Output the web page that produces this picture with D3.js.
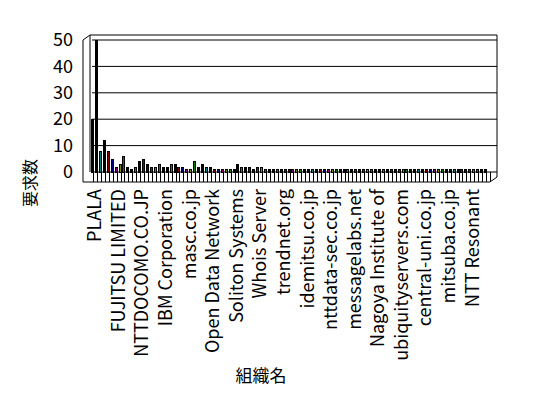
<!DOCTYPE html>
<html>
<head>
<meta charset="utf-8">
<script src="https://cdn.jsdelivr.net/npm/d3@7/dist/d3.min.js"></script>
<style>
  body { margin: 0; background: #fff; }
  text { font-family: "Noto Sans CJK JP", "DejaVu Sans", sans-serif; fill: #000; }
</style>
</head>
<body>
<div id="chart"></div>
<script>
// request counts per organisation
const values = [
  20, 50, 8, 12, 8, 5, 2, 3, 6, 2, 1, 2, 4, 5, 3, 2, 2, 3, 2, 2,
  3, 3, 2, 2, 1, 1, 4, 2, 3, 2, 2, 1, 1, 1, 1, 1, 1, 3, 2, 2,
  2, 1, 2, 2, 1, 1, 1, 1, 1, 1, 1, 1, 1, 1, 1, 1, 1, 1, 1, 1,
  1, 1, 1, 1, 1, 1, 1, 1, 1, 1, 1, 1, 1, 1, 1, 1, 1, 1, 1, 1,
  1, 1, 1, 1, 1, 1, 1, 1, 1, 1, 1, 1, 1, 1, 1, 1, 1, 1, 1, 1,
  1
];
// only every 6th category name is printed
const tickLabels = [
  'PLALA', 'FUJITSU LIMITED', 'NTTDOCOMO.CO.JP', 'IBM Corporation', 'masc.co.jp',
  'Open Data Network', 'Soliton Systems', 'Whois Server', 'trendnet.org',
  'idemitsu.co.jp', 'nttdata-sec.co.jp', 'messagelabs.net', 'Nagoya Institute of',
  'ubiquityservers.com', 'central-uni.co.jp', 'mitsuba.co.jp', 'NTT Resonant'
];
const labelStep = 6;
const yTicks = [0, 10, 20, 30, 40, 50];
const barColors = ['#000000', '#000000', '#008080', '#000000', '#800000', '#000080', '#800080', '#808000', '#008000'];

const width = 548, height = 398;
const dx = 7, dy = -5; // 3d depth offset

const svg = d3.select('#chart')
  .append('svg')
  .attr('width', width)
  .attr('height', height);

const x = d3.scaleBand()
  .domain(d3.range(values.length))
  .range([93, 490]);
const y = d3.scaleLinear()
  .domain([0, 50])
  .range([172, 40]);

const left = 83, floorY = 182;
const right = x.range()[1];

// back wall + gridlines
svg.append('path')
  .attr('d', `M${left + dx},${y(50) + dy}H${right + dx}V${floorY + dy}`)
  .attr('fill', 'none').attr('stroke', '#000');
svg.selectAll('.grid')
  .data(yTicks.slice(1))
  .join('line')
  .attr('x1', left + 9).attr('x2', right + dx)
  .attr('y1', d => y(d)).attr('y2', d => y(d))
  .attr('stroke', '#000');

// side wall
svg.append('path')
  .attr('d', `M${left},${floorY}V${y(50)}L${left + dx},${y(50) + dy}V${y(0)}`)
  .attr('fill', 'none').attr('stroke', '#000');

// floor edge with category cells
svg.append('path')
  .attr('d', `M${left},${floorY}H${right}L${right + dx},${floorY + dy}M${left + 9},${y(0)}H${right + dx}`)
  .attr('fill', 'none').attr('stroke', '#000');
svg.selectAll('.cell')
  .data(d3.range(values.length + 1))
  .join('line')
  .attr('x1', d => Math.round(x.range()[0] + d * x.step()) + 0.5)
  .attr('x2', d => Math.round(x.range()[0] + d * x.step()) + 0.5)
  .attr('y1', y(0)).attr('y2', floorY)
  .attr('stroke', '#000');

// bars
const yClip = d => Math.max(y(d), y(50));
svg.selectAll('.bar')
  .data(values)
  .join('rect')
  .attr('x', (d, i) => Math.round(x(i)) - 1.5)
  .attr('y', d => Math.round(yClip(d)) + 0.5)
  .attr('width', 2)
  .attr('height', d => Math.round(y(0) - yClip(d)))
  .attr('fill', (d, i) => barColors[i % barColors.length])
  .attr('stroke', '#000');

// value axis labels
svg.append('g')
  .attr('transform', `translate(73,0)`)
  .call(d3.axisLeft(y).tickValues(yTicks).tickSize(0).tickPadding(0))
  .call(g => g.select('.domain').remove())
  .selectAll('text')
  .attr('font-size', 18)
  .attr('fill', '#000');

// category labels
svg.append('g')
  .attr('transform', `translate(0,${floorY + 5})`)
  .call(d3.axisBottom(x)
    .tickValues(d3.range(0, values.length, labelStep))
    .tickFormat(i => tickLabels[i / labelStep])
    .tickSize(0).tickPadding(0))
  .call(g => g.select('.domain').remove())
  .selectAll('text')
  .attr('font-size', 18)
  .attr('fill', '#000')
  .attr('text-anchor', 'end')
  .attr('dy', '0.35em')
  .attr('transform', 'rotate(-90)')
  .attr('x', -2).attr('y', 0);

// axis titles
svg.append('text')
  .attr('transform', 'translate(30,183) rotate(-90)')
  .attr('text-anchor', 'middle')
  .attr('dy', '0.35em')
  .attr('font-size', 16)
  .attr('fill', '#000')
  .text('要求数');
svg.append('text')
  .attr('x', 261).attr('y', 376)
  .attr('text-anchor', 'middle')
  .attr('dy', '0.35em')
  .attr('font-size', 17)
  .attr('fill', '#000')
  .text('組織名');
</script>
</body>
</html>
